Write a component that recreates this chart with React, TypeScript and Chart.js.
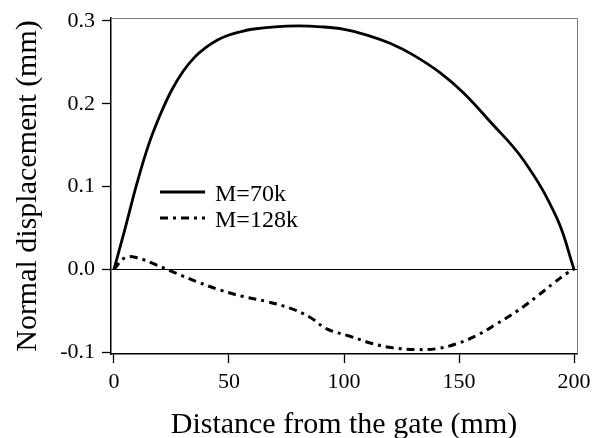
import React, { useEffect, useRef } from "react";
import { Chart, registerables } from "chart.js";

Chart.register(...registerables);

const xTickValues = [0, 50, 100, 150, 200];
const yTickValues = [-0.1, 0.0, 0.1, 0.2, 0.3];

const seriesLabels = ["M=70k", "M=128k"];

const m70kX = [0, 5, 10, 15, 20, 25, 30, 35, 40, 45, 50, 55, 60, 70, 80, 90, 100, 110, 120, 130, 142, 152, 163, 178, 192.5, 200];
const m70kY = [0, 0.051, 0.104, 0.15, 0.186, 0.216, 0.239, 0.256, 0.268, 0.277, 0.283, 0.287, 0.29, 0.293, 0.294, 0.293, 0.29, 0.283, 0.273, 0.259, 0.237, 0.213, 0.18, 0.132, 0.062, 0];

const m128kX = [0, 4.8, 9.9, 18.6, 27.2, 36, 46, 56.2, 66.4, 76.5, 85.2, 92.5, 102.6, 112.7, 121.4, 131.6, 140.3, 149, 157.7, 166.4, 175, 183.8, 191, 196.8, 200];
const m128kY = [0, 0.014, 0.014, 0.005, -0.005, -0.015, -0.025, -0.033, -0.039, -0.047, -0.058, -0.072, -0.081, -0.09, -0.095, -0.097, -0.096, -0.09, -0.08, -0.066, -0.051, -0.033, -0.017, -0.005, 0];

const FONT = "'Liberation Serif', 'Times New Roman', serif";

export default function App() {
  const ref = useRef<HTMLCanvasElement | null>(null);

  useEffect(() => {
    document.body.style.margin = "0";
    const canvas = ref.current;
    if (!canvas) return;

    const framePlugin = {
      id: "frame",
      afterDraw(chart: any) {
        const { ctx, chartArea: ca } = chart;
        ctx.save();
        ctx.strokeStyle = "#777";
        ctx.lineWidth = 1;
        ctx.beginPath();
        ctx.moveTo(ca.left, ca.top + 0.5);
        ctx.lineTo(ca.right + 0.5, ca.top + 0.5);
        ctx.lineTo(ca.right + 0.5, ca.bottom);
        ctx.stroke();
        ctx.restore();
      },
    };

    const legendPlugin = {
      id: "innerLegend",
      afterDatasetsDraw(chart: any) {
        const { ctx, chartArea: ca } = chart;
        ctx.save();
        chart.data.datasets.forEach((ds: any, i: number) => {
          const y = ca.top + 174 + i * 26;
          ctx.strokeStyle = "#000";
          ctx.lineWidth = ds.borderWidth;
          ctx.setLineDash(ds.borderDash || []);
          ctx.beginPath();
          ctx.moveTo(ca.left + 49, y);
          ctx.lineTo(ca.left + 94, y);
          ctx.stroke();
          ctx.setLineDash([]);
          ctx.fillStyle = "#000";
          ctx.font = `24px ${FONT}`;
          ctx.textBaseline = "middle";
          ctx.textAlign = "left";
          ctx.fillText(ds.label, ca.left + 104, y + 3);
        });
        ctx.restore();
      },
    };

    const chart = new Chart(canvas, {
      type: "line",
      data: {
        datasets: [
          {
            label: seriesLabels[0],
            data: m70kX.map((x, i) => ({ x, y: m70kY[i] })),
            borderColor: "#000",
            borderWidth: 2.8,
            pointRadius: 0,
            tension: 0.4,
            fill: false,
          },
          {
            label: seriesLabels[1],
            data: m128kX.map((x, i) => ({ x, y: m128kY[i] })),
            borderColor: "#000",
            borderWidth: 3,
            borderDash: [8, 5, 3, 5],
            pointRadius: 0,
            tension: 0.4,
            fill: false,
          },
        ],
      },
      options: {
        responsive: false,
        animation: false,
        events: [],
        layout: { padding: { top: 18, right: 16, left: 0, bottom: 0 } },
        plugins: {
          legend: { display: false },
          tooltip: { enabled: false },
        },
        scales: {
          x: {
            type: "linear",
            min: -1.3,
            max: 201.3,
            afterBuildTicks: (s: any) => {
              s.ticks = xTickValues.map((v) => ({ value: v }));
            },
            afterFit: (s: any) => {
              s.height = 84;
              s.paddingLeft = 0;
              s.paddingRight = 0;
            },
            ticks: {
              color: "#000",
              font: { family: FONT, size: 22 },
              padding: 6,
              maxRotation: 0,
              callback: (v: any) => String(v),
            },
            grid: {
              drawOnChartArea: false,
              drawTicks: true,
              tickLength: 9,
              tickColor: "#000",
              tickWidth: 1.3,
            },
            border: { display: true, color: "#000", width: 1.5 },
            title: {
              display: true,
              text: "Distance from the gate (mm)",
              color: "#000",
              font: { family: FONT, size: 30, lineHeight: 1 },
              padding: { top: 0, bottom: -2 },
            },
          },
          y: {
            type: "linear",
            min: -0.1024,
            max: 0.3036,
            afterBuildTicks: (s: any) => {
              s.ticks = yTickValues.map((v) => ({ value: v }));
            },
            afterFit: (s: any) => {
              s.width = 111;
              s.paddingTop = 0;
              s.paddingBottom = 0;
            },
            ticks: {
              color: "#000",
              font: { family: FONT, size: 22 },
              padding: 7,
              callback: (v: any) => Number(v).toFixed(1),
            },
            grid: {
              drawOnChartArea: true,
              drawTicks: true,
              tickLength: 9,
              color: (c: any) => (c.tick && Math.abs(c.tick.value) < 1e-9 ? "#000" : "rgba(0,0,0,0)"),
              lineWidth: 1,
              tickColor: "#000",
              tickWidth: 1.3,
            },
            border: { display: true, color: "#000", width: 1.5 },
            title: {
              display: true,
              text: "Normal displacement (mm)",
              color: "#000",
              font: { family: FONT, size: 30, lineHeight: 1 },
              padding: { top: 13, bottom: 0 },
            },
          },
        },
      },
      plugins: [framePlugin, legendPlugin],
    } as any);

    return () => chart.destroy();
  }, []);

  return (
    <div style={{ width: 593, height: 438, background: "#fff" }}>
      <canvas ref={ref} width={593} height={438} style={{ display: "block" }} />
    </div>
  );
}
